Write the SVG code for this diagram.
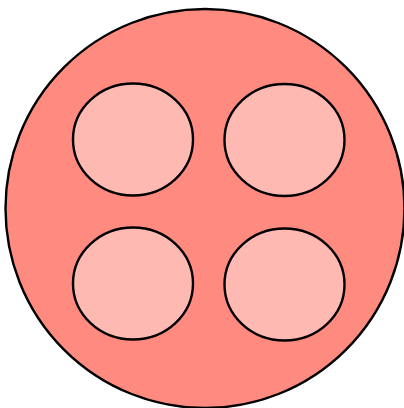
<svg xmlns="http://www.w3.org/2000/svg" width="404" height="408" viewBox="0 0 404 408">
<style>
.outer{fill:#ff8b80;stroke:#000;stroke-width:2.4}
.inner{fill:#ffb9b3;stroke:#000;stroke-width:2.4}
</style>
<rect width="404" height="408" fill="#fff"/>
<g id="outer"><circle class="outer" cx="205" cy="208.5" r="199.5"/></g>
<g id="cell-tl"><ellipse class="inner" cx="133" cy="139.5" rx="60" ry="56"/></g>
<g id="cell-tr"><ellipse class="inner" cx="284.5" cy="140" rx="60" ry="56"/></g>
<g id="cell-bl"><ellipse class="inner" cx="133" cy="283.5" rx="60" ry="56"/></g>
<g id="cell-br"><ellipse class="inner" cx="284.5" cy="284.5" rx="60" ry="56"/></g>
<g id="connectors"/>
</svg>
